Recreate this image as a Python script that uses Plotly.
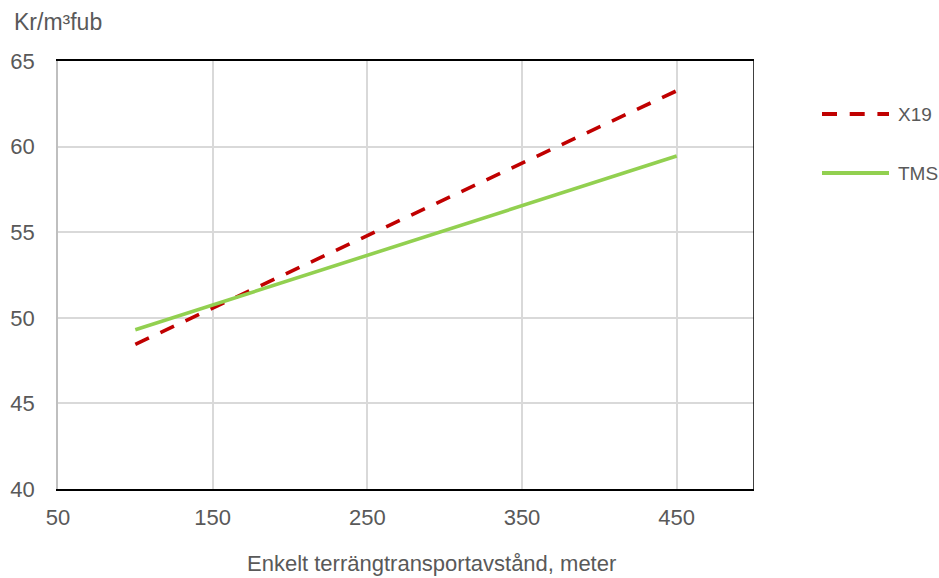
import plotly.graph_objects as go

# Haulage distance (m) and cost (SEK per m3fub) for the two systems
distance = [100, 150, 200, 250, 300, 350, 400, 450]
cost_x19 = [48.45, 50.57, 52.68, 54.80, 56.91, 59.03, 61.14, 63.26]
cost_tms = [49.30, 50.75, 52.20, 53.65, 55.10, 56.55, 58.00, 59.45]
series_names = ["X19", "TMS"]

x_ticks = [50, 150, 250, 350, 450]
y_ticks = [40, 45, 50, 55, 60, 65]

FONT = "Liberation Sans, Arial, sans-serif"
TEXT = "#595959"
GRID = "#d9d9d9"
RED = "#c00000"
GREEN = "#92d050"
X19_DASH = "15px,12.7px"

W, H = 939, 578
ML, MR, MT, MB = 58, 185, 61, 89
PW, PH = W - ML - MR, H - MT - MB


def px_x(px):
    return (px - ML) / PW


def px_y(py):
    return (H - MB - py) / PH


fig = go.Figure()
fig.add_trace(go.Scatter(
    x=distance, y=cost_x19, mode="lines", name=series_names[0],
    line=dict(color=RED, width=3.6, dash=X19_DASH), showlegend=False,
))
fig.add_trace(go.Scatter(
    x=distance, y=cost_tms, mode="lines", name=series_names[1],
    line=dict(color=GREEN, width=3.6), showlegend=False,
))

# Right border of the plot frame
fig.add_shape(type="line", xref="x", yref="y", x0=500, x1=500, y0=40, y1=65,
              line=dict(color="black", width=1.5))

# Legend drawn to the right of the plot
legend_rows = [(series_names[0], RED, X19_DASH, 114), (series_names[1], GREEN, "solid", 173)]
for name, color, dash, cy in legend_rows:
    fig.add_shape(type="line", xref="paper", yref="paper",
                  x0=px_x(822), x1=px_x(889), y0=px_y(cy), y1=px_y(cy),
                  line=dict(color=color, width=4, dash=dash))
    fig.add_annotation(text=name, xref="paper", yref="paper",
                       x=px_x(896), y=px_y(cy), xanchor="left", yanchor="middle",
                       showarrow=False, font=dict(family=FONT, size=19, color=TEXT))

fig.add_annotation(text="Kr/m³fub", xref="paper", yref="paper",
                   x=px_x(12), y=px_y(22), xanchor="left", yanchor="middle",
                   showarrow=False, font=dict(family=FONT, size=23, color=TEXT))
fig.add_annotation(text="Enkelt terrängtransportavstånd, meter", xref="paper", yref="paper",
                   x=px_x(431), y=px_y(563), xanchor="center", yanchor="middle",
                   showarrow=False, font=dict(family=FONT, size=22, color=TEXT))

fig.update_layout(
    width=W, height=H,
    margin=dict(l=ML, r=MR, t=MT, b=MB, autoexpand=False),
    paper_bgcolor="white", plot_bgcolor="white",
    font=dict(family=FONT, size=21, color=TEXT),
    showlegend=False,
    xaxis=dict(
        range=[50, 500], tickvals=x_ticks, ticktext=[str(v) for v in x_ticks],
        showgrid=True, gridcolor=GRID, gridwidth=1.5, zeroline=False,
        showline=True, linecolor="black", linewidth=1.8, mirror=True,
        ticks="", ticklabelstandoff=8,
        tickfont=dict(family=FONT, size=22, color=TEXT),
    ),
    yaxis=dict(
        range=[40, 65], tickvals=y_ticks,
        showgrid=True, gridcolor=GRID, gridwidth=1.5, zeroline=False,
        showline=True, linecolor="#bfbfbf", linewidth=1.5,
        ticks="", ticklabelstandoff=17,
        tickfont=dict(family=FONT, size=22, color=TEXT),
    ),
)

fig.write_html("out.html")
